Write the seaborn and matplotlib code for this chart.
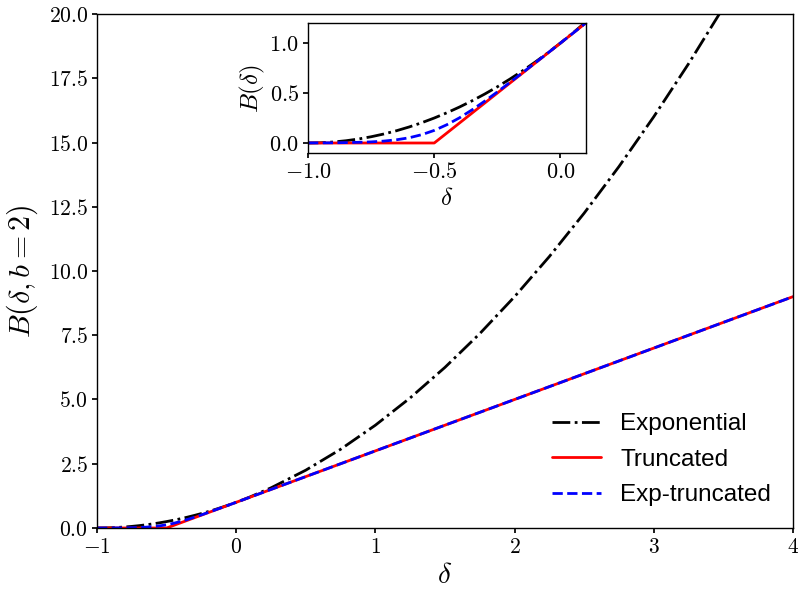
import matplotlib
matplotlib.use("Agg")
import matplotlib.pyplot as plt
from matplotlib.ticker import FuncFormatter, MultipleLocator
import seaborn as sns
import pandas as pd

# Bias factor B(delta) for three models, b = 2
delta = [-1.00, -0.95, -0.90, -0.85, -0.80, -0.75, -0.70, -0.65, -0.60, -0.55,
         -0.50, -0.45, -0.40, -0.35, -0.30, -0.25, -0.20, -0.15, -0.10, -0.05,
         0.00, 0.05, 0.10,
         0.25, 0.50, 0.75, 1.00, 1.25, 1.50, 1.75, 2.00, 2.25, 2.50, 2.75,
         3.00, 3.25, 3.50, 3.75, 4.00]

exponential = [0.0, 0.0025, 0.01, 0.0225, 0.04, 0.0625, 0.09, 0.1225, 0.16, 0.2025,
               0.25, 0.3025, 0.36, 0.4225, 0.49, 0.5625, 0.64, 0.7225, 0.81, 0.9025,
               1.0, 1.1025, 1.21,
               1.5625, 2.25, 3.0625, 4.0, 5.0625, 6.25, 7.5625, 9.0, 10.5625, 12.25, 14.0625,
               16.0, 18.0625, 20.25, 22.5625, 25.0]

truncated = [0.0, 0.0, 0.0, 0.0, 0.0, 0.0, 0.0, 0.0, 0.0, 0.0,
             0.0, 0.1, 0.2, 0.3, 0.4, 0.5, 0.6, 0.7, 0.8, 0.9,
             1.0, 1.1, 1.2,
             1.5, 2.0, 2.5, 3.0, 3.5, 4.0, 4.5, 5.0, 5.5, 6.0, 6.5,
             7.0, 7.5, 8.0, 8.5, 9.0]

exp_truncated = [0.001, 0.001, 0.002, 0.004, 0.007, 0.011, 0.019, 0.032, 0.052, 0.083,
                 0.126, 0.183, 0.252, 0.332, 0.419, 0.511, 0.607, 0.704, 0.802, 0.901,
                 1.0, 1.1, 1.2,
                 1.5, 2.0, 2.5, 3.0, 3.5, 4.0, 4.5, 5.0, 5.5, 6.0, 6.5,
                 7.0, 7.5, 8.0, 8.5, 9.0]

df = pd.DataFrame({"delta": delta, "Exponential": exponential,
                   "Truncated": truncated, "Exp-truncated": exp_truncated})

sns.set_theme(style="ticks")
plt.rcParams.update({
    "mathtext.fontset": "cm",
    "font.family": ["Liberation Sans", "DejaVu Sans"],
    "text.color": "black",
    "axes.labelcolor": "black",
    "axes.edgecolor": "black",
    "axes.linewidth": 1.0,
    "xtick.color": "black",
    "ytick.color": "black",
    "xtick.major.size": 3.5,
    "ytick.major.size": 3.5,
})

styles = [("Exponential", "black", "-."),
          ("Truncated", "red", "-"),
          ("Exp-truncated", "blue", "--")]

fig = plt.figure(figsize=(7.98, 5.96), dpi=100)
ax = fig.add_axes([0.1216, 0.1141, 0.872, 0.8624])

for name, col, ls in styles:
    sns.lineplot(data=df, x="delta", y=name, ax=ax, color=col, linestyle=ls,
                 linewidth=2, label=name, sort=False)

ax.set_xlim(-1, 4)
ax.set_ylim(0, 20)
ax.xaxis.set_major_locator(MultipleLocator(1))
ax.yaxis.set_major_locator(MultipleLocator(2.5))
ax.xaxis.set_major_formatter(FuncFormatter(lambda v, p: f"${v:.0f}$"))
ax.yaxis.set_major_formatter(FuncFormatter(lambda v, p: f"${v:.1f}$"))
ax.tick_params(labelsize=15.5, pad=3)
ax.set_xlabel(r"$\delta$", fontsize=21, labelpad=2)
ax.set_ylabel(r"$B(\delta, b=2)$", fontsize=21.5, labelpad=6)
leg = ax.legend(loc="lower right", frameon=False, fontsize=17.5,
                handlelength=2.0, borderaxespad=0.5, labelspacing=0.55)
for t in leg.get_texts():
    t.set_color("black")

# zoom on the low-density region
ins = fig.add_axes([0.386, 0.7433, 0.348, 0.218])
for name, col, ls in styles:
    sns.lineplot(data=df, x="delta", y=name, ax=ins, color=col, linestyle=ls,
                 linewidth=2, sort=False, legend=False)
ins.set_xlim(-1, 0.1)
ins.set_ylim(-0.1, 1.2)
ins.xaxis.set_major_locator(MultipleLocator(0.5))
ins.yaxis.set_major_locator(MultipleLocator(0.5))
ins.xaxis.set_major_formatter(FuncFormatter(lambda v, p: f"${v:.1f}$"))
ins.yaxis.set_major_formatter(FuncFormatter(lambda v, p: f"${v:.1f}$"))
ins.tick_params(labelsize=16, pad=3)
ins.set_xlabel(r"$\delta$", fontsize=18, labelpad=2)
ins.set_ylabel(r"$B(\delta)$", fontsize=18, labelpad=2)

fig.savefig("out.png", dpi=100)
